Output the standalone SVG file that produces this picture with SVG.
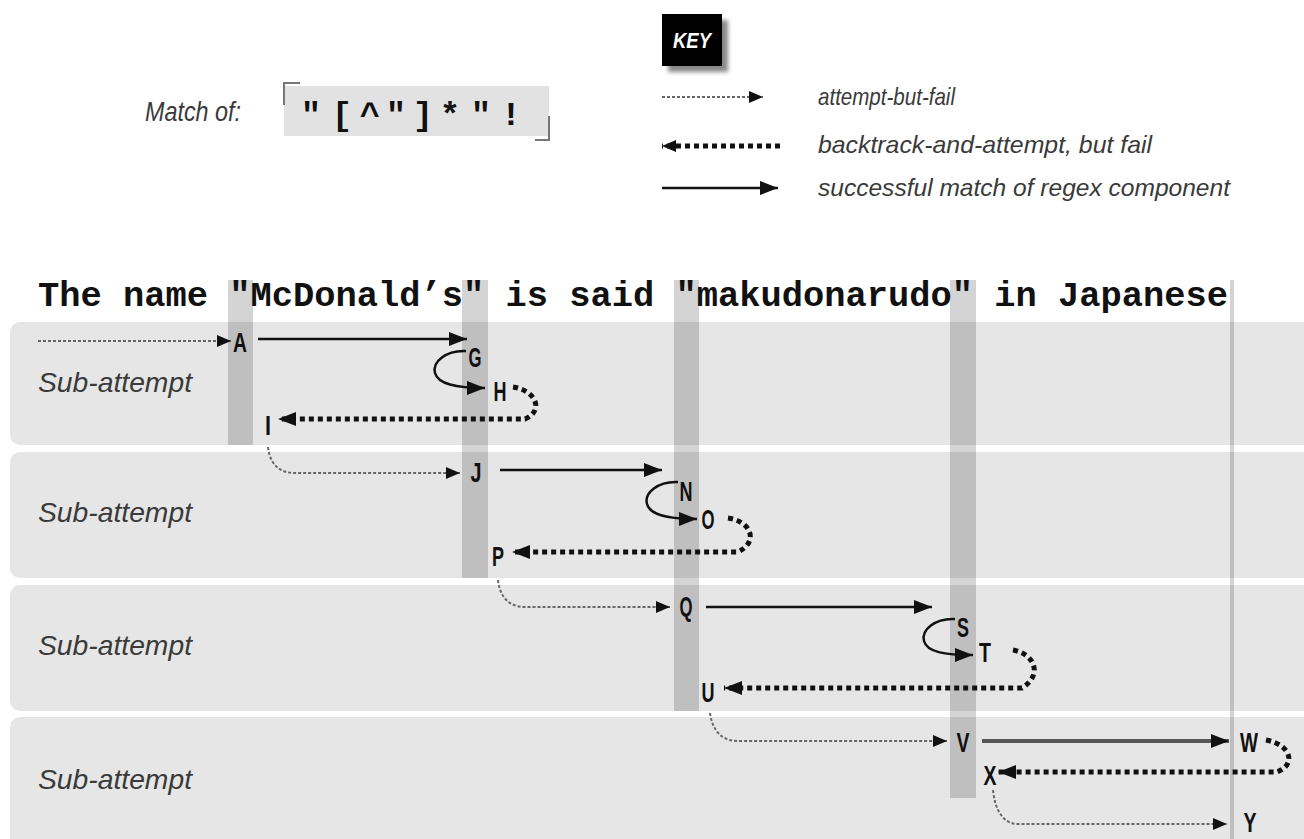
<svg xmlns="http://www.w3.org/2000/svg" width="1304" height="839" viewBox="0 0 1304 839">
<style>
.lbl{font-family:"Liberation Sans",Arial,sans-serif;font-style:italic;fill:#3a3a3a}
.node{font-family:"Liberation Sans",Arial,sans-serif;font-weight:bold;font-size:28px;fill:#111;text-anchor:middle}
.panel{fill:#e6e6e6}
.strip{fill:#000;fill-opacity:0.17}
.try{fill:none;stroke:#666;stroke-width:2;stroke-dasharray:3 2}
.back{fill:none;stroke:#111;stroke-width:5;stroke-dasharray:5 4}
.ok{fill:none;stroke:#111;stroke-width:2.5}
</style>
<defs>
<marker id="h" markerUnits="userSpaceOnUse" markerWidth="18" markerHeight="14" refX="18" refY="7" orient="auto"><path d="M0,0 L18,7 L0,14 z" fill="#111"/></marker>
<marker id="hs" markerUnits="userSpaceOnUse" markerWidth="14" markerHeight="12" refX="14" refY="6" orient="auto"><path d="M0,0 L14,6 L0,12 z" fill="#111"/></marker>
<filter id="blur" x="-20%" y="-20%" width="140%" height="140%"><feGaussianBlur stdDeviation="2"/></filter>
</defs>
<rect width="1304" height="839" fill="#fff"/>

<g id="title">
<text class="lbl" x="145" y="121" font-size="28" textLength="96" lengthAdjust="spacingAndGlyphs">Match of:</text>
<rect x="284" y="86" width="265" height="50" fill="#e2e2e2"/>
<path d="M284 105 V83 H300" fill="none" stroke="#777" stroke-width="2"/>
<path d="M549 116 V140 H535" fill="none" stroke="#777" stroke-width="2"/>
<text font-family="Liberation Mono,'Courier New',monospace" font-weight="bold" font-size="34" fill="#111" text-anchor="middle" x="311 342 370 396 423 450 481 511" y="125">"[^"]*"!</text>
</g>

<g id="key">
<rect x="668" y="20" width="60" height="52" fill="#888" filter="url(#blur)"/>
<rect x="662" y="14" width="60" height="52" fill="#000"/>
<text x="692" y="48" font-family="Liberation Sans,Arial,sans-serif" font-weight="bold" font-style="italic" font-size="22" fill="#fff" text-anchor="middle" textLength="38" lengthAdjust="spacingAndGlyphs">KEY</text>
<path class="try" d="M662 97 H763" marker-end="url(#hs)"/>
<path class="back" d="M780 146 H662" marker-end="url(#hs)"/>
<path class="ok" d="M662 188 H778" marker-end="url(#h)"/>
<text class="lbl" x="818" y="105" font-size="24" textLength="137" lengthAdjust="spacingAndGlyphs">attempt-but-fail</text>
<text class="lbl" x="818" y="153" font-size="24" textLength="334" lengthAdjust="spacingAndGlyphs">backtrack-and-attempt, but fail</text>
<text class="lbl" x="818" y="196" font-size="24" textLength="412" lengthAdjust="spacingAndGlyphs">successful match of regex component</text>
</g>

<g id="panels">
<rect class="panel" x="10" y="322" width="1310" height="123" rx="10"/>
<rect class="panel" x="10" y="452" width="1310" height="126" rx="10"/>
<rect class="panel" x="10" y="585" width="1310" height="126" rx="10"/>
<rect class="panel" x="10" y="717" width="1310" height="140" rx="10"/>
</g>

<g id="strips">
<rect class="strip" x="228" y="280" width="25" height="165"/>
<rect class="strip" x="462" y="280" width="26" height="298"/>
<rect class="strip" x="674" y="280" width="25" height="431"/>
<rect class="strip" x="950" y="280" width="26" height="518"/>
<rect class="strip" x="1230" y="280" width="4" height="559"/>
</g>

<g id="sentence">
<text x="38" y="306" font-family="Liberation Mono,'Courier New',monospace" font-weight="bold" font-size="35" fill="#111" textLength="1190" lengthAdjust="spacingAndGlyphs">The name "McDonald’s" is said "makudonarudo" in Japanese</text>
</g>

<g id="labels">
<text class="lbl" x="38" y="392" font-size="28" textLength="154" lengthAdjust="spacingAndGlyphs">Sub-attempt</text>
<text class="lbl" x="38" y="522" font-size="28" textLength="154" lengthAdjust="spacingAndGlyphs">Sub-attempt</text>
<text class="lbl" x="38" y="655" font-size="28" textLength="154" lengthAdjust="spacingAndGlyphs">Sub-attempt</text>
<text class="lbl" x="38" y="789" font-size="28" textLength="154" lengthAdjust="spacingAndGlyphs">Sub-attempt</text>
</g>

<g id="connectors">
<path class="try" d="M38 341 H231" marker-end="url(#hs)"/>
<path class="ok" d="M258 339 H467" marker-end="url(#h)"/>
<path class="ok" d="M466 351 C446 350 432 362 435 373 C438 384 455 388 485 388" marker-end="url(#h)"/>
<path class="back" d="M513 387 C535 390 545 410 525 419 H278" marker-end="url(#h)"/>

<path class="try" d="M268 447 C270 465 280 473 295 473 H460" marker-end="url(#hs)"/>
<path class="ok" d="M500 470 H662" marker-end="url(#h)"/>
<path class="ok" d="M678 482 C658 481 644 493 647 504 C650 515 667 519 697 519" marker-end="url(#h)"/>
<path class="back" d="M728 518 C750 521 760 541 738 552 H512" marker-end="url(#h)"/>

<path class="try" d="M498 580 C500 598 510 607 525 607 H670" marker-end="url(#hs)"/>
<path class="ok" d="M706 607 H932" marker-end="url(#h)"/>
<path class="ok" d="M955 619 C935 618 921 630 924 641 C927 652 944 655 973 655" marker-end="url(#h)"/>
<path class="back" d="M1013 650 C1035 654 1043 675 1022 688 H724" marker-end="url(#h)"/>

<path class="try" d="M710 713 C712 730 722 741 737 741 H947" marker-end="url(#hs)"/>
<path d="M982 741 H1229" fill="none" stroke="#555" stroke-width="4" marker-end="url(#h)"/>
<path class="back" d="M1266 740 C1292 745 1296 765 1277 772 H998" marker-end="url(#h)"/>
<path class="try" d="M993 790 C995 810 1003 824 1018 824 H1227" marker-end="url(#hs)"/>
</g>

<g id="nodeA"><text class="node" x="240" y="352" textLength="14" lengthAdjust="spacingAndGlyphs">A</text></g>
<g id="nodeG"><text class="node" x="475" y="367" textLength="13" lengthAdjust="spacingAndGlyphs">G</text></g>
<g id="nodeH"><text class="node" x="500" y="401" textLength="13" lengthAdjust="spacingAndGlyphs">H</text></g>
<g id="nodeI"><text class="node" x="268" y="435" textLength="6" lengthAdjust="spacingAndGlyphs">I</text></g>
<g id="nodeJ"><text class="node" x="476" y="482" textLength="11" lengthAdjust="spacingAndGlyphs">J</text></g>
<g id="nodeN"><text class="node" x="686" y="501" textLength="13" lengthAdjust="spacingAndGlyphs">N</text></g>
<g id="nodeO"><text class="node" x="708" y="529" textLength="13" lengthAdjust="spacingAndGlyphs">O</text></g>
<g id="nodeP"><text class="node" x="498" y="566" textLength="12" lengthAdjust="spacingAndGlyphs">P</text></g>
<g id="nodeQ"><text class="node" x="686" y="616" textLength="13" lengthAdjust="spacingAndGlyphs">Q</text></g>
<g id="nodeS"><text class="node" x="963" y="637" textLength="12" lengthAdjust="spacingAndGlyphs">S</text></g>
<g id="nodeT"><text class="node" x="985" y="662" textLength="12" lengthAdjust="spacingAndGlyphs">T</text></g>
<g id="nodeU"><text class="node" x="708" y="702" textLength="13" lengthAdjust="spacingAndGlyphs">U</text></g>
<g id="nodeV"><text class="node" x="963" y="752" textLength="13" lengthAdjust="spacingAndGlyphs">V</text></g>
<g id="nodeW"><text class="node" x="1249" y="752" textLength="18" lengthAdjust="spacingAndGlyphs">W</text></g>
<g id="nodeX"><text class="node" x="990" y="785" textLength="13" lengthAdjust="spacingAndGlyphs">X</text></g>
<g id="nodeY"><text class="node" x="1250" y="832" textLength="13" lengthAdjust="spacingAndGlyphs">Y</text></g>
</svg>
